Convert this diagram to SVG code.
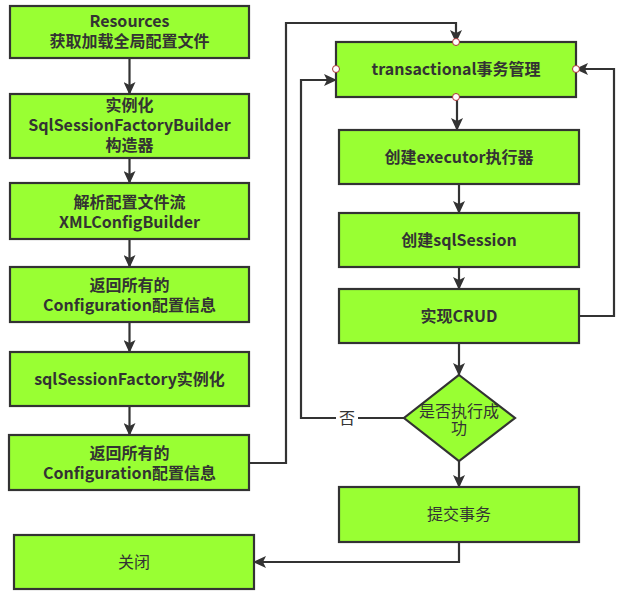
<svg xmlns="http://www.w3.org/2000/svg" width="621" height="599" viewBox="0 0 621 599">
<defs>
<marker id="ah" markerUnits="userSpaceOnUse" markerWidth="14" markerHeight="12" refX="12" refY="6" orient="auto">
<path d="M0,0 L13,6 L0,12 L3,6 Z" fill="#333"/>
</marker>
<style>
.box{fill:#99ff33;stroke:#333;stroke-width:2.2}
.t{font-family:"Noto Sans CJK SC","Noto Sans",sans-serif;font-size:16px;font-weight:bold;fill:#333;text-anchor:middle}
.r{font-weight:normal}
.c{fill:none;stroke:#333;stroke-width:2.2}
.a{marker-end:url(#ah)}
.pt{fill:#fff;stroke:#a33;stroke-width:1}
</style>
</defs>
<rect width="621" height="599" fill="#fff"/>
<g id="connectors">
<path class="c a" d="M129.5,58 V94"/>
<path class="c a" d="M129.5,158 V183"/>
<path class="c a" d="M129.5,239 V267"/>
<path class="c a" d="M129.5,322 V352"/>
<path class="c a" d="M129.5,406 V435"/>
<path class="c a" d="M249,463 H286 V23 H456 V42"/>
<path class="c a" d="M457,97 V130"/>
<path class="c a" d="M459,184 V213"/>
<path class="c a" d="M459,267 V289"/>
<path class="c a" d="M459,343 V375"/>
<path class="c a" d="M459,461 V487"/>
<path class="c a" d="M459,542 V562 H254"/>
<path class="c a" d="M404,418 H301 V80 H336"/>
<path class="c a" d="M579,316 H614 V69 H576"/>
<rect x="336" y="407" width="22" height="22" fill="#fff"/>
<text class="t r" x="347" y="424">否</text>
</g>
<g id="n1"><rect class="box" x="10" y="6" width="239" height="52"/><text class="t" x="129.5" y="27">Resources</text><text class="t" x="129.5" y="47">获取加载全局配置文件</text></g>
<g id="n2"><rect class="box" x="10" y="94" width="239" height="64"/><text class="t" x="129.5" y="111">实例化</text><text class="t" x="129.5" y="131">SqlSessionFactoryBuilder</text><text class="t" x="129.5" y="151">构造器</text></g>
<g id="n3"><rect class="box" x="10" y="183" width="239" height="56"/><text class="t" x="129.5" y="208">解析配置文件流</text><text class="t" x="129.5" y="228">XMLConfigBuilder</text></g>
<g id="n4"><rect class="box" x="10" y="267" width="239" height="55"/><text class="t" x="129.5" y="291">返回所有的</text><text class="t" x="129.5" y="311">Configuration配置信息</text></g>
<g id="n5"><rect class="box" x="10" y="352" width="239" height="54"/><text class="t" x="129.5" y="385">sqlSessionFactory实例化</text></g>
<g id="n6"><rect class="box" x="9" y="435" width="240" height="55"/><text class="t" x="129.5" y="459">返回所有的</text><text class="t" x="129.5" y="479">Configuration配置信息</text></g>
<g id="n7"><rect class="box" x="14" y="535" width="240" height="54"/><text class="t r" x="134" y="568">关闭</text></g>
<g id="n8"><rect class="box" x="336" y="42" width="240" height="55"/><text class="t" x="456" y="75">transactional事务管理</text>
<circle class="pt" cx="456" cy="42" r="3.5"/><circle class="pt" cx="336" cy="69" r="3.5"/><circle class="pt" cx="576" cy="69" r="3.5"/><circle class="pt" cx="456" cy="97" r="3.5"/></g>
<g id="n9"><rect class="box" x="339" y="130" width="240" height="54"/><text class="t" x="459" y="163">创建executor执行器</text></g>
<g id="n10"><rect class="box" x="339" y="213" width="240" height="54"/><text class="t" x="459" y="246">创建sqlSession</text></g>
<g id="n11"><rect class="box" x="339" y="289" width="240" height="54"/><text class="t" x="459" y="322">实现CRUD</text></g>
<g id="n12"><polygon class="box" points="459,375 515,418 459,461 404,418"/><text class="t r" x="459" y="417">是否执行成</text><text class="t r" x="459" y="434">功</text></g>
<g id="n13"><rect class="box" x="339" y="487" width="240" height="55"/><text class="t r" x="459" y="520">提交事务</text></g>
</svg>
